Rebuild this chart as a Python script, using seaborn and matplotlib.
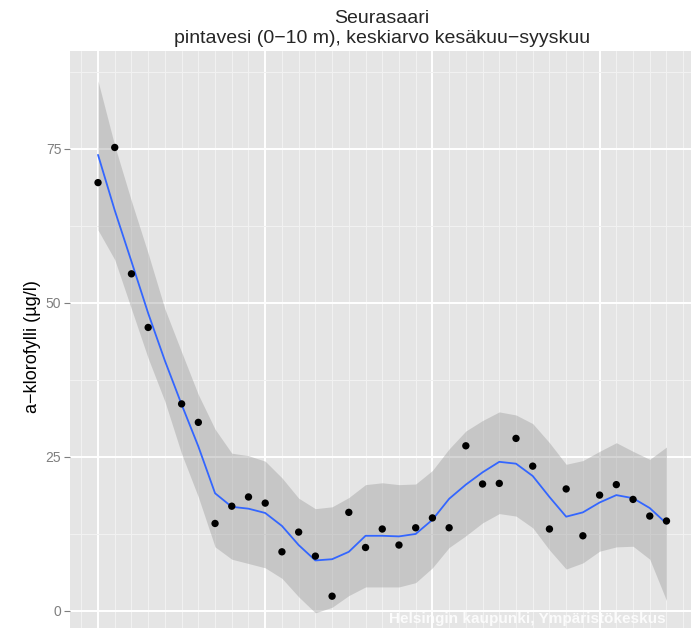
import numpy as np
import pandas as pd
import matplotlib
matplotlib.use("Agg")
import matplotlib.pyplot as plt
import seaborn as sns
from matplotlib.ticker import MultipleLocator

# Observations (yearly mean, a-chlorophyll ug/l); 1984 missing
years = [1980, 1981, 1982, 1983, 1985, 1986, 1987, 1988, 1989, 1990,
         1991, 1992, 1993, 1994, 1995, 1996, 1997, 1998, 1999, 2000,
         2001, 2002, 2003, 2004, 2005, 2006, 2007, 2008, 2009, 2010,
         2011, 2012, 2013, 2014]
chl = [69.5, 75.2, 54.7, 46.0, 33.6, 30.6, 14.2, 17.0, 18.5, 17.5,
       9.6, 12.8, 8.9, 2.4, 16.0, 10.3, 13.3, 10.7, 13.5, 15.1,
       13.5, 26.8, 20.6, 20.7, 28.0, 23.5, 13.3, 19.8, 12.2, 18.8,
       20.5, 18.1, 15.4, 14.6]

# Smoothed curve and its confidence band
fit_years = list(range(1980, 2015))
smooth = [74.0, 65.0, 56.7, 48.3, 40.6, 33.5, 26.7, 19.1, 16.9, 16.6,
          15.9, 13.8, 10.7, 8.2, 8.4, 9.6, 12.2, 12.2, 12.1, 12.5,
          14.8, 18.2, 20.5, 22.5, 24.2, 23.9, 21.9, 18.5, 15.3, 16.0,
          17.6, 18.8, 18.3, 16.7, 14.2]
lower = [61.8, 57.0, 49.0, 41.0, 34.0, 25.5, 18.5, 10.4, 8.4, 7.7,
         7.0, 5.3, 2.3, -0.3, 0.6, 2.5, 3.9, 3.9, 3.9, 4.6,
         7.0, 10.3, 12.2, 14.3, 15.8, 15.4, 13.5, 9.9, 6.8, 7.8,
         9.7, 10.4, 10.5, 8.4, 1.7]
upper = [86.0, 75.5, 66.5, 58.0, 49.0, 42.0, 35.1, 29.5, 25.6, 25.2,
         24.3, 21.6, 18.3, 16.6, 16.9, 18.4, 20.5, 20.8, 20.5, 20.6,
         22.8, 26.3, 29.2, 30.9, 32.3, 31.8, 30.4, 27.3, 23.8, 24.4,
         25.9, 27.3, 25.9, 24.6, 26.6]

y_ticks = [0, 25, 50, 75]

df = pd.DataFrame({"year": years, "chl": chl})
fit = pd.DataFrame({"year": fit_years, "fit": smooth, "lo": lower, "hi": upper})

sns.set_theme(style="darkgrid")
plt.rcParams["font.family"] = ["Liberation Sans", "DejaVu Sans"]

W, H = 691, 628
fig = plt.figure(figsize=(W / 100, H / 100), dpi=100)
fig.patch.set_facecolor("white")

# panel placement (pixels)
px_left, px_right, px_top = 69.6, 694.9, 50.7
ax = fig.add_axes([px_left / W, 0, (px_right - px_left) / W, (H - px_top) / H])
ax.set_facecolor("#E5E5E5")

ax.set_xlim(1980 - 1.7, 2014 + 1.7)
ax.set_ylim(-2.76, 90.9)

# grid like ggplot theme_grey
ax.xaxis.set_major_locator(MultipleLocator(10))
ax.xaxis.set_minor_locator(MultipleLocator(1))
ax.set_yticks(y_ticks)
ax.yaxis.set_minor_locator(MultipleLocator(12.5))
ax.grid(which="major", color="white", linewidth=1.4)
ax.grid(which="minor", color="#F2F2F2", linewidth=0.7)
ax.set_axisbelow(True)
for s in ax.spines.values():
    s.set_visible(False)

ax.fill_between(fit["year"], fit["lo"], fit["hi"], color="#999999", alpha=0.4,
                linewidth=0, zorder=2)
sns.lineplot(data=fit, x="year", y="fit", ax=ax, color="#3366FF", linewidth=1.3,
             zorder=3)
sns.scatterplot(data=df, x="year", y="chl", ax=ax, color="black", s=28,
                edgecolor="none", zorder=4)

ax.tick_params(axis="y", which="major", colors="#7F7F7F", labelsize=10,
               length=4, width=0.8, pad=2, left=True)
ax.tick_params(axis="y", which="minor", length=0)
ax.tick_params(axis="x", which="both", length=0, labelbottom=False)
ax.set_xlabel("")
ax.set_ylabel("a\u2212klorofylli (\u00b5g/l)", fontsize=13, color="black")
ax.yaxis.set_label_coords((41 - px_left) / (px_right - px_left), 0.487)

fig.text(382 / W, 1 - 28.5 / H, "Seurasaari\npintavesi (0\u221210 m), keskiarvo kes\u00e4kuu\u2212syyskuu",
         ha="center", va="center", fontsize=14, linespacing=1.2)

fig.text(666 / W, 5 / H, "Helsingin kaupunki, Ymp\u00e4rist\u00f6keskus",
         ha="right", va="baseline", fontsize=11, fontweight="bold",
         color="white", alpha=0.85)

fig.savefig("out.png", dpi=100)
